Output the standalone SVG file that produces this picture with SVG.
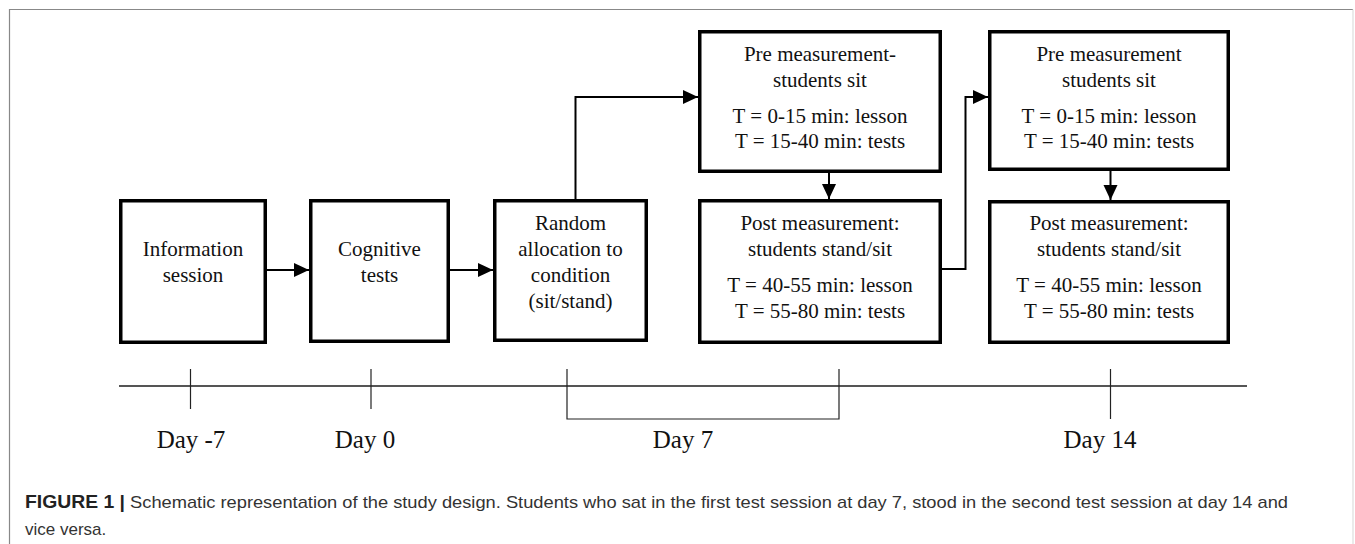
<svg xmlns="http://www.w3.org/2000/svg" width="1355" height="544" viewBox="0 0 1355 544">
<style>
.box{fill:#fff;stroke:#000;stroke-width:3.5}
.t{font-family:"Liberation Serif","Times New Roman",serif;font-size:21px;fill:#111;text-anchor:middle}
.day{font-family:"Liberation Serif","Times New Roman",serif;font-size:25px;fill:#111;text-anchor:middle}
.conn{fill:none;stroke:#000;stroke-width:2}
.tick{fill:none;stroke:#222;stroke-width:1.2}
.cap{font-family:"Liberation Sans",Arial,sans-serif;font-size:17px;fill:#333}
</style>
<defs>
<marker id="ah" markerUnits="userSpaceOnUse" markerWidth="16" markerHeight="15" refX="15" refY="7" orient="auto">
<path d="M0,0 L15,7 L0,14 z" fill="#000"/>
</marker>
</defs>
<rect width="1355" height="544" fill="#fff"/>
<g id="frame" fill="none">
<path d="M9.5,544 V9.5 H1353" stroke="#888" stroke-width="1.2"/>
<path d="M1353,9.5 V544" stroke="#ddd" stroke-width="1.2"/>
</g>
<g id="connectors">
<path class="conn" d="M267,270 H309" marker-end="url(#ah)"/>
<path class="conn" d="M450,270 H493" marker-end="url(#ah)"/>
<path class="conn" d="M575.5,199 V97 H698" marker-end="url(#ah)"/>
<path class="conn" d="M829,173 V199" marker-end="url(#ah)"/>
<path class="conn" d="M942,269 H965.5 V97 H988" marker-end="url(#ah)"/>
<path class="conn" d="M1110.5,171 V200" marker-end="url(#ah)"/>
</g>
<g id="info">
<rect class="box" x="120.75" y="200.75" width="144.5" height="141.5"/>
<text class="t" x="193" y="256">Information</text>
<text class="t" x="193" y="282">session</text>
</g>
<g id="cognitive">
<rect class="box" x="310.75" y="200.75" width="137.5" height="140.5"/>
<text class="t" x="379.5" y="256">Cognitive</text>
<text class="t" x="379.5" y="282">tests</text>
</g>
<g id="random">
<rect class="box" x="494.75" y="200.75" width="151.5" height="139.5"/>
<text class="t" x="570.5" y="230">Random</text>
<text class="t" x="570.5" y="256">allocation to</text>
<text class="t" x="570.5" y="282">condition</text>
<text class="t" x="570.5" y="308">(sit/stand)</text>
</g>
<g id="pre1">
<rect class="box" x="699.75" y="31.75" width="240.5" height="139.5"/>
<text class="t" x="820" y="61">Pre measurement-</text>
<text class="t" x="820" y="87">students sit</text>
<text class="t" x="820" y="123">T = 0-15 min: lesson</text>
<text class="t" x="820" y="148">T = 15-40 min: tests</text>
</g>
<g id="post1">
<rect class="box" x="699.75" y="200.75" width="240.5" height="141.5"/>
<text class="t" x="820" y="230">Post measurement:</text>
<text class="t" x="820" y="256">students stand/sit</text>
<text class="t" x="820" y="292">T = 40-55 min: lesson</text>
<text class="t" x="820" y="318">T = 55-80 min: tests</text>
</g>
<g id="pre2">
<rect class="box" x="989.75" y="31.75" width="238.5" height="137.5"/>
<text class="t" x="1109" y="61">Pre measurement</text>
<text class="t" x="1109" y="87">students sit</text>
<text class="t" x="1109" y="123">T = 0-15 min: lesson</text>
<text class="t" x="1109" y="148">T = 15-40 min: tests</text>
</g>
<g id="post2">
<rect class="box" x="989.75" y="201.75" width="238.5" height="140.5"/>
<text class="t" x="1109" y="230">Post measurement:</text>
<text class="t" x="1109" y="256">students stand/sit</text>
<text class="t" x="1109" y="292">T = 40-55 min: lesson</text>
<text class="t" x="1109" y="318">T = 55-80 min: tests</text>
</g>
<g id="timeline">
<path d="M119,386 H1247" stroke="#555" stroke-width="2" fill="none"/>
<path class="tick" d="M190.5,369 V409"/>
<path class="tick" d="M371,369 V409"/>
<path class="tick" d="M567,369 V419 H839 V369"/>
<path class="tick" d="M1110.5,369 V419"/>
<text class="day" x="191" y="448">Day -7</text>
<text class="day" x="365" y="448">Day 0</text>
<text class="day" x="683" y="448">Day 7</text>
<text class="day" x="1100" y="448">Day 14</text>
</g>
<g id="caption">
<text class="cap" x="25" y="508" textLength="1263" lengthAdjust="spacingAndGlyphs"><tspan font-weight="bold" fill="#222" font-size="18px">FIGURE 1 |</tspan> Schematic representation of the study design. Students who sat in the first test session at day 7, stood in the second test session at day 14 and</text>
<text class="cap" x="25" y="535">vice versa.</text>
</g>
</svg>
